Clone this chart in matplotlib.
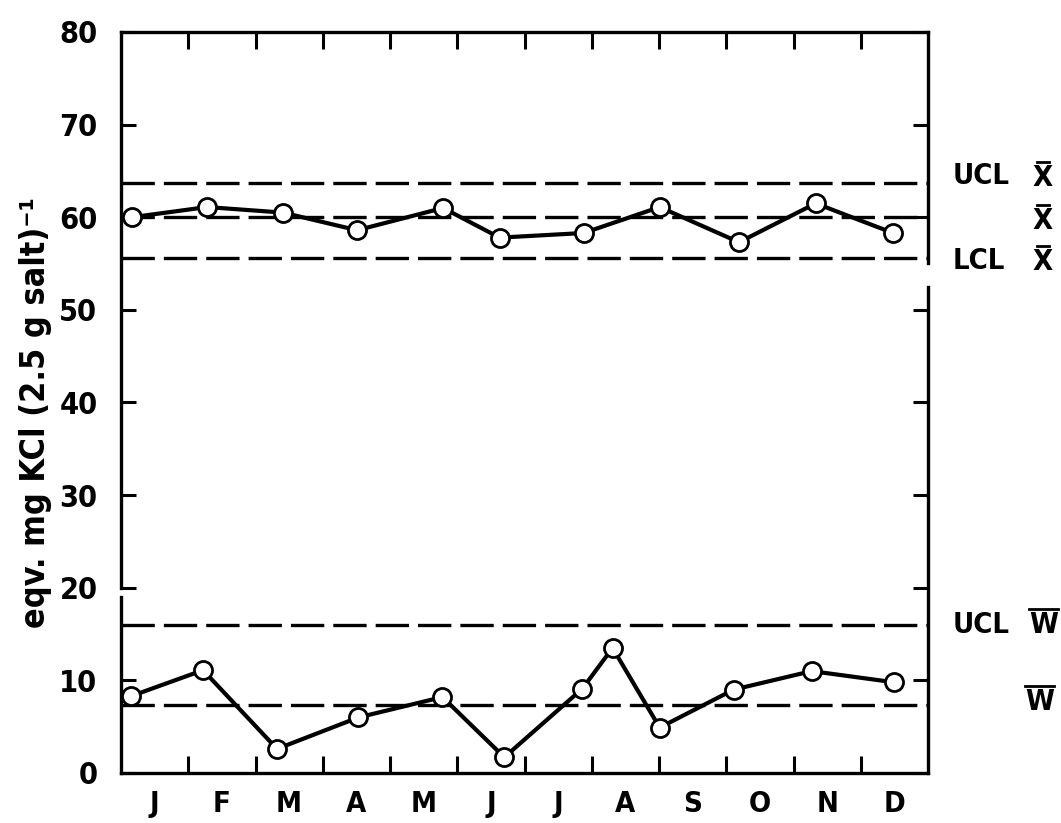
import matplotlib
matplotlib.use("Agg")
import matplotlib.pyplot as plt
from matplotlib import font_manager
from matplotlib.lines import Line2D
from matplotlib.transforms import IdentityTransform

# monthly control chart: means (X-bar) and ranges (W) over one year
months = ["J", "F", "M", "A", "M", "J", "J", "A", "S", "O", "N", "D"]

# sampling dates, expressed in months from 1 January
x_mean = [0.16, 1.28, 2.41, 3.51, 4.79, 5.63, 6.88, 8.01, 9.19, 10.33, 11.48]
mean_vals = [60.0, 61.1, 60.5, 58.6, 61.0, 57.8, 58.3, 61.1, 57.3, 61.5, 58.3]

x_range = [0.15, 1.22, 2.32, 3.53, 4.78, 5.70, 6.86, 7.31, 8.01, 9.11, 10.27, 11.49]
range_vals = [8.3, 11.1, 2.6, 6.0, 8.2, 1.7, 9.1, 13.5, 4.9, 9.0, 11.0, 9.8]

# control limits
ucl_x = 63.7
mean_x = 60.0
lcl_x = 55.6
ucl_w = 16.0
mean_w = 7.3

# condensed bold face if present, plain bold otherwise
cond = [f.fname for f in font_manager.fontManager.ttflist
        if "DejaVuSansCondensed-Bold.ttf" in f.fname]
if cond:
    fp = dict(fontproperties=font_manager.FontProperties(fname=cond[0]))
else:
    fp = dict(family="DejaVu Sans", weight="bold")

plt.rcParams["lines.scale_dashes"] = False

fig = plt.figure(figsize=(10.61, 8.23), dpi=100)
ax = fig.add_axes([121 / 1061, 50 / 823, 807 / 1061, 741 / 823])
ax.set_xlim(0, 12)
ax.set_ylim(0, 80)

lw_axis = 2.4
for s in ["top", "bottom"]:
    ax.spines[s].set_linewidth(lw_axis)
for s in ["left", "right"]:
    ax.spines[s].set_visible(False)

# broken side axes
yt = ax.get_yaxis_transform()
for y0, y1 in [(0, 19), (20, 80)]:
    ax.plot([0, 0], [y0, y1], color="black", lw=lw_axis, transform=yt,
            clip_on=False, solid_capstyle="projecting")
for y0, y1 in [(0, 52.5), (55.1, 80)]:
    ax.plot([1, 1], [y0, y1], color="black", lw=lw_axis, transform=yt,
            clip_on=False, solid_capstyle="projecting")

ax.set_yticks(range(0, 81, 10))
ax.set_xticks(range(1, 12))
ax.set_xticklabels([])
ax.set_xticks([i + 0.5 for i in range(12)], minor=True)
ax.set_xticklabels(months, minor=True, **fp, fontsize=21)
ax.tick_params(axis="x", which="major", direction="in", length=12, width=2.2,
               top=True, bottom=True)
ax.tick_params(axis="x", which="minor", length=0, pad=12)
ax.tick_params(axis="y", direction="in", length=11, width=2.2,
               left=True, right=True, pad=17)
for lab in ax.get_yticklabels():
    if "fontproperties" in fp:
        lab.set_fontproperties(fp["fontproperties"])
    else:
        lab.set_fontweight("bold")
    lab.set_fontsize(22)

# control limit lines
for val in [ucl_x, mean_x, lcl_x, ucl_w, mean_w]:
    ax.axhline(val, color="black", lw=2.4, dashes=(24, 6.5), zorder=1)

style = dict(color="black", lw=3, marker="o", ms=13, mfc="white",
             mec="black", mew=2.0, zorder=3, clip_on=False)
ax.plot(x_mean, mean_vals, **style)
ax.plot(x_range, range_vals, **style)

fig.text(36 / 1061, 1 - 413 / 823, "eqv. mg KCl (2.5 g salt)\u207b\u00b9",
         rotation=90, ha="center", va="center", fontsize=24.5, **fp)

lab_kw = dict(transform=yt, ha="left", va="center", fontsize=21)
ax.text(1.03, ucl_x + 0.7, "UCL", **lab_kw, **fp)
ax.text(1.03, lcl_x - 0.3, "LCL", **lab_kw, **fp)
ax.text(1.03, ucl_w, "UCL", **lab_kw, **fp)

# letters with a bar over them
barred = [
    (1.13, ucl_x + 0.5, "X", 0.55),
    (1.13, mean_x - 0.4, "X", 0.55),
    (1.13, lcl_x - 0.4, "X", 0.55),
    (1.125, ucl_w, "W", 1.0),
    (1.12, mean_w + 0.4, "W", 1.0),
]
letters = [ax.text(x, y, s, **lab_kw, **fp) for x, y, s, _ in barred]
fig.canvas.draw()
renderer = fig.canvas.get_renderer()
for t, (_, _, _, frac) in zip(letters, barred):
    bb = t.get_window_extent(renderer)
    xc = 0.5 * (bb.x0 + bb.x1)
    half = 0.5 * frac * bb.width
    ybar = bb.y1 + 2
    fig.add_artist(Line2D([xc - half, xc + half], [ybar, ybar], color="black",
                          lw=2.0, transform=IdentityTransform()))

fig.savefig("out.png", dpi=100)
